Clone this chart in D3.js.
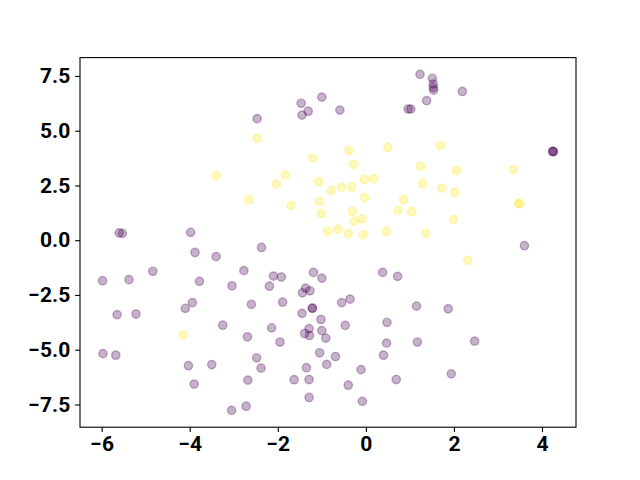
<!DOCTYPE html>
<html>
<head>
<meta charset="utf-8">
<script src="https://cdn.jsdelivr.net/npm/d3@7"></script>
<style>
  html, body { margin: 0; padding: 0; background: #fff; }
  svg text { font-family: Roboto, "DejaVu Sans", sans-serif; font-weight: 700; }
</style>
</head>
<body>
<svg id="chart" width="640" height="480"></svg>
<script>
// values

// purple cluster (class 0)
const purpleX = [-5.60, -5.53, -3.98, -2.47, -1.47, -1.45, -1.31, -1.00, -0.59, 0.96, 1.02, 1.23, 1.51, 1.53, 1.53, 1.54, 2.19, 1.38,
  4.24, 4.26, 4.25, 3.60, -3.88, -3.40, -2.77, -4.84, -5.98, -5.38, -3.78, -3.04, -3.94, -4.10, -2.60, -5.65, -5.22, -3.25, -2.69,
  -5.97, -5.68, -4.03, -3.50, -3.90, -2.68, -3.05, -2.72, -2.37, -2.10, -1.92, -2.19, -1.19, -1.00, -1.37, -1.44, -1.27, -1.89,
  -1.22, -1.21, -1.45, -1.02, -0.55, -0.36, 0.38, 0.72, 1.15, 0.48, -0.47, -2.14, -1.95, -1.39, -1.28, -1.29, -1.00, -0.91, 0.47,
  1.17, -2.48, -2.38, -1.05, -0.69, -0.89, 0.40, -1.35, -0.11, -1.63, -1.29, -0.40, 0.69, -1.29, -0.08, 1.87, 2.47, 1.94];
const purpleY = [0.33, 0.31, 0.36, 5.55, 6.25, 5.71, 5.89, 6.53, 5.94, 5.99, 5.99, 7.57, 7.39, 7.13, 6.97, 6.85, 6.79, 6.37,
  4.05, 4.04, 4.06, -0.25, -0.56, -0.75, -1.39, -1.42, -1.85, -1.80, -1.88, -2.08, -2.85, -3.11, -2.93, -3.40, -3.37, -3.88, -4.41,
  -5.18, -5.25, -5.73, -5.68, -6.57, -6.39, -7.77, -7.58, -0.33, -1.64, -1.68, -2.10, -1.47, -1.73, -2.19, -2.40, -2.31, -2.83,
  -3.10, -3.11, -3.34, -3.62, -2.85, -2.69, -1.47, -1.65, -3.01, -3.75, -3.89, -4.00, -4.65, -4.26, -4.35, -4.04, -4.13, -4.47, -4.70,
  -4.65, -5.37, -5.84, -5.14, -5.31, -5.67, -5.25, -5.82, -5.91, -6.37, -6.36, -6.62, -6.36, -7.18, -7.36, -3.13, -4.61, -6.10];

// yellow cluster (class 1)
const yellowX = [-3.40, -2.66, -2.47, 0.50, -0.39, -1.21, -0.28, -1.83, -2.03, -1.07, -0.03, 0.18, -0.79, -0.56, -0.32, -1.70,
  -1.06, -0.03, 0.86, 0.73, 1.04, -1.01, -0.31, -0.09, -0.27, -0.87, -0.64, -0.40, -0.06, 0.47, 1.69, 1.24, 2.06, 3.35, 1.29,
  1.72, 2.02, 3.47, 3.48, 1.99, 1.36, 2.31, -4.15];
const yellowY = [2.95, 1.85, 4.65, 4.24, 4.09, 3.75, 3.45, 2.97, 2.56, 2.67, 2.78, 2.81, 2.27, 2.41, 2.42, 1.59,
  1.76, 1.94, 1.85, 1.36, 1.30, 1.22, 1.32, 0.98, 0.86, 0.40, 0.51, 0.31, 0.25, 0.40, 4.32, 3.37, 3.19, 3.23, 2.59,
  2.38, 2.18, 1.68, 1.66, 0.95, 0.31, -0.92, -4.32];

const xTicks = [-6, -4, -2, 0, 2, 4];
const yTicks = [-7.5, -5.0, -2.5, 0.0, 2.5, 5.0, 7.5];
const classColors = ["#440154", "#fde725"];

// build the point table
let points = [];
purpleX.forEach((x, i) => points.push({x: x, y: purpleY[i], c: 0}));
yellowX.forEach((x, i) => points.push({x: x, y: yellowY[i], c: 1}));

const margin = {top: 57.6, right: 64, bottom: 52.8, left: 80};
const width = 640, height = 480;

// matplotlib style 5% padding
function padded(vals) {
  let [lo, hi] = d3.extent(vals);
  let p = (hi - lo) * 0.05;
  return [lo - p, hi + p];
}

const xScale = d3.scaleLinear()
  .domain(padded(points.map(d => d.x)))
  .range([margin.left, width - margin.right]);

const yScale = d3.scaleLinear()
  .domain(padded(points.map(d => d.y)))
  .range([height - margin.bottom, margin.top]);

const svg = d3.select("#chart");
const minus = s => s.replace("-", "\u2212");

// points
svg.append("g")
  .selectAll("circle")
  .data(points)
  .join("circle")
  .attr("cx", d => xScale(d.x))
  .attr("cy", d => yScale(d.y))
  .attr("r", 4.17)
  .attr("fill", d => classColors[d.c])
  .attr("fill-opacity", 0.3)
  .attr("stroke", d => classColors[d.c])
  .attr("stroke-opacity", 0.3)
  .attr("stroke-width", 1.39);

// axes
let xAxis = svg.append("g")
  .attr("transform", "translate(0," + (height - margin.bottom) + ")")
  .call(d3.axisBottom(xScale).tickValues(xTicks).tickSize(4.9).tickPadding(4.4)
    .tickFormat(d => minus(d3.format("d")(d))));

let yAxis = svg.append("g")
  .attr("transform", "translate(" + margin.left + ",0)")
  .call(d3.axisLeft(yScale).tickValues(yTicks).tickSize(4.9).tickPadding(4.9)
    .tickFormat(d => minus(d3.format(".1f")(d))));

[xAxis, yAxis].forEach(g => {
  g.select(".domain").remove();
  g.selectAll(".tick line").attr("stroke", "#000").attr("stroke-width", 1.1);
  g.selectAll(".tick text").attr("fill", "#000").style("font-size", "21px");
});

// frame
svg.append("rect")
  .attr("x", margin.left)
  .attr("y", margin.top)
  .attr("width", width - margin.left - margin.right)
  .attr("height", height - margin.top - margin.bottom)
  .attr("fill", "none")
  .attr("stroke", "#000")
  .attr("stroke-width", 1.1);
</script>
</body>
</html>
